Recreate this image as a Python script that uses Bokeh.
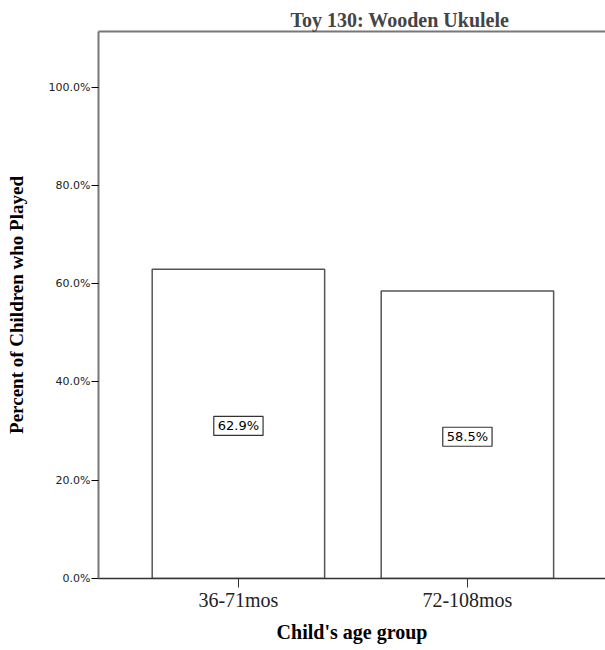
from bokeh.plotting import figure
from bokeh.models import (Range1d, FixedTicker, PrintfTickFormatter, LinearAxis, Label,
                          ColumnDataSource)
from bokeh.embed import file_html
from bokeh.resources import INLINE

title_text = "Toy 130: Wooden Ukulele"
categories = ["36-71mos", "72-108mos"]
percent_played = [62.9, 58.5]
y_ticks = [0, 20, 40, 60, 80, 100]
x_label = "Child's age group"
y_label = "Percent of Children who Played"

positions = list(range(1, len(categories) + 1))
src = ColumnDataSource(dict(x=positions, top=percent_played))

SERIF = "Liberation Serif"
SANS = "DejaVu Sans"

p = figure(width=605, height=650, output_backend="svg", toolbar_location=None,
           x_range=Range1d(0.389, 2.603), y_range=Range1d(0, 111.3),
           min_border_left=98, min_border_right=0, min_border_top=31, min_border_bottom=72)
p.outline_line_color = None
p.grid.grid_line_color = None
p.background_fill_color = "white"
p.border_fill_color = "white"

p.vbar(x="x", top="top", width=0.753, bottom=0, source=src, fill_color="white",
       line_color="#555555", line_width=1.5)

for xv, v in zip(positions, percent_played):
    p.add_layout(Label(x=xv, y=v / 2, text=f"{v:.1f}%", text_align="center",
                       text_baseline="middle", text_font=SANS, text_font_size="13px",
                       text_color="black", background_fill_color="white",
                       border_line_color="#333333", border_line_width=1.2, padding=(4, 2),
                       y_offset=-2))

# y axis
ya = p.yaxis[0]
ya.ticker = FixedTicker(ticks=y_ticks)
ya.formatter = PrintfTickFormatter(format="%.1f%%")
ya.minor_tick_line_color = None
ya.major_tick_in = 0
ya.major_tick_out = 7
ya.major_tick_line_color = "black"
ya.axis_line_color = "#777777"
ya.axis_line_width = 2
ya.major_label_text_font = SANS
ya.major_label_text_font_size = "11px"
ya.major_label_text_color = "#222222"
ya.major_label_standoff = 1
ya.axis_label = y_label
ya.axis_label_text_font = SERIF
ya.axis_label_text_font_style = "bold"
ya.axis_label_text_font_size = "19px"
ya.axis_label_text_color = "black"
ya.axis_label_standoff = 19

# x axis
xa = p.xaxis[0]
xa.ticker = FixedTicker(ticks=positions)
xa.major_label_overrides = {pos: c for pos, c in zip(positions, categories)}
xa.minor_tick_line_color = None
xa.major_tick_in = 0
xa.major_tick_out = 9
xa.major_tick_line_color = "#333333"
xa.axis_line_color = "#333333"
xa.axis_line_width = 1.5
xa.major_label_text_font = SERIF
xa.major_label_text_font_size = "20px"
xa.major_label_text_color = "#222222"
xa.major_label_standoff = 1
xa.axis_label = x_label
xa.axis_label_text_font = SERIF
xa.axis_label_text_font_style = "bold"
xa.axis_label_text_font_size = "20px"
xa.axis_label_text_color = "black"
xa.axis_label_standoff = 7

# top border line
top_axis = LinearAxis(ticker=FixedTicker(ticks=[]), major_tick_out=0, major_tick_in=0,
                      minor_tick_out=0, minor_tick_in=0, major_label_text_font_size="0px",
                      axis_line_color="#777777", axis_line_width=2, major_label_standoff=0)
p.add_layout(top_axis, "above")

p.title.text = title_text
p.title.text_font = SERIF
p.title.text_font_style = "bold"
p.title.text_font_size = "20px"
p.title.align = "left"
p.title.offset = 192
p.title.standoff = 2

open("out.html", "w").write(file_html(p, INLINE))
